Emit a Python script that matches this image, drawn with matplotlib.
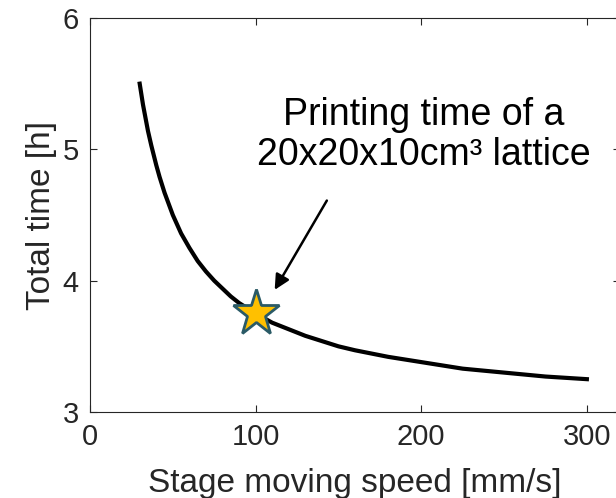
import matplotlib
matplotlib.use("Agg")
import matplotlib.pyplot as plt

plt.rcParams['font.family'] = ['Liberation Sans', 'DejaVu Sans']

# Data
speed = [30, 32, 35, 37, 40, 42, 45, 50, 55, 60, 65, 70, 75, 80, 85, 90, 100, 110, 120, 130,
         140, 150, 160, 180, 200, 225, 250, 275, 300]
total_time = [5.50, 5.34, 5.14, 5.03, 4.88, 4.79, 4.67, 4.50, 4.36, 4.25, 4.15, 4.07, 4.00,
              3.94, 3.88, 3.83, 3.75, 3.68, 3.63, 3.58, 3.54, 3.50, 3.47, 3.42, 3.38, 3.33,
              3.30, 3.27, 3.25]
star_speed = [100]
star_time = [3.75]
xticks = [0, 100, 200, 300]
yticks = [3, 4, 5, 6]

fig = plt.figure(figsize=(6.16, 4.98), dpi=100)
ax = fig.add_axes([90/616, 86/498, 530/616, 394/498])

ax.plot(speed, total_time, color='black', linewidth=3, solid_joinstyle='round')
ax.plot(star_speed, star_time, marker='*', markersize=35, markerfacecolor='#FFC000',
        markeredgecolor='#2A5A66', markeredgewidth=2, linestyle='none', zorder=5)

ax.set_xlim(0, 320)
ax.set_ylim(3, 6)
ax.set_xticks(xticks)
ax.set_yticks(yticks)
ax.tick_params(direction='in', length=5, width=0.8, labelsize=21, top=True, right=True,
               colors='#262626', labelcolor='#262626', pad=8)
for s in ax.spines.values():
    s.set_linewidth(0.8)
    s.set_color('#262626')

ax.set_xlabel('Stage moving speed [mm/s]', fontsize=24, color='#262626', labelpad=12)
ax.set_ylabel('Total time [h]', fontsize=24, color='#262626', labelpad=4)

ax.text(201.5, 5.11, 'Printing time of a\n20x20x10cm³ lattice', fontsize=27, ha='center',
        va='center', color='black', linespacing=1.15)
ax.annotate('', xy=(111.5, 3.93), xytext=(143, 4.61),
            arrowprops=dict(arrowstyle='-|>,head_length=0.9,head_width=0.45', color='black',
                            linewidth=1.8, shrinkA=0, shrinkB=0))

fig.savefig('out.png', dpi=100)
